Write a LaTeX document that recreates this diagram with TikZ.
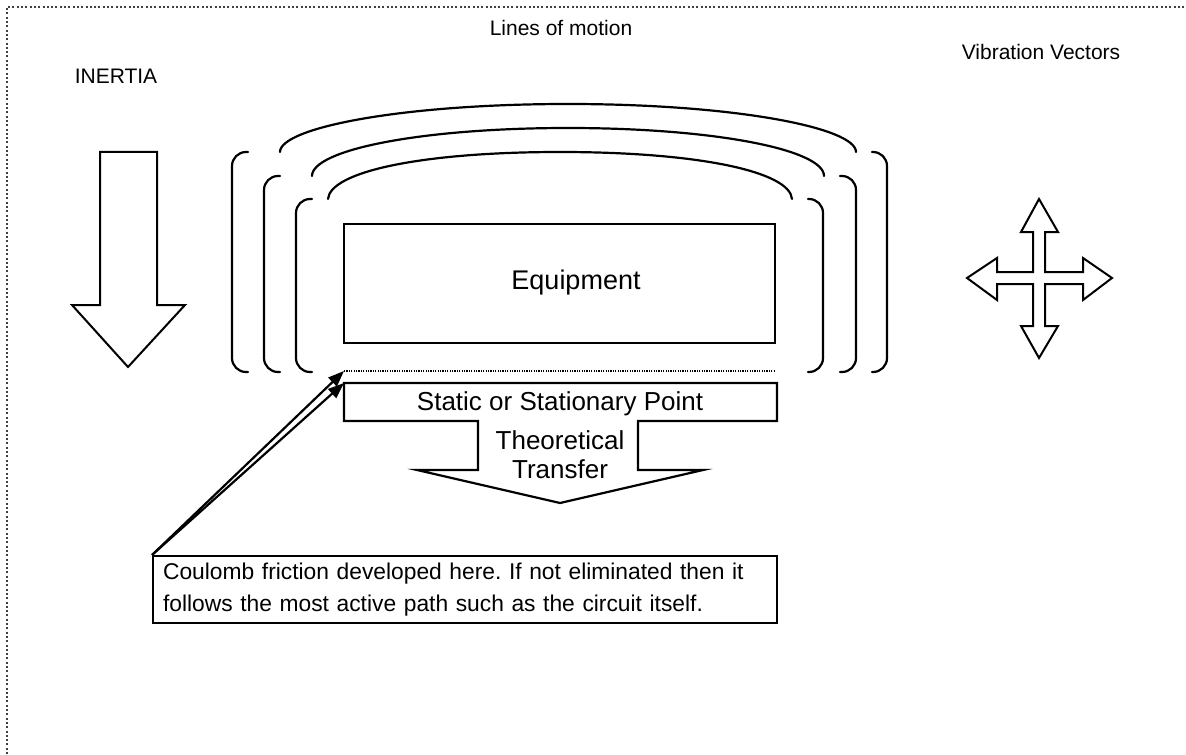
\documentclass[tikz,border=0pt]{standalone}
\usepackage{fontspec}
\setmainfont{Liberation Sans}
\usetikzlibrary{arrows.meta}
\begin{document}
\begin{tikzpicture}[x=0.5pt,y=-0.5pt,
  line width=1.1pt,
  lbl/.style={font=\fontsize{10.5}{12.5}\selectfont, inner sep=0pt},
  stlbl/.style={font=\fontsize{13}{15}\selectfont, inner sep=0pt},
  bigl/.style={font=\fontsize{13.5}{16}\selectfont, inner sep=0pt},
  notelbl/.style={font=\fontsize{11.4}{16}\selectfont\frenchspacing},
  motion/.style={line width=1.1pt, line cap=round},
  bracketline/.style={line width=1.1pt, line cap=round, rounded corners=7pt},
  hollow/.style={line width=1pt, line join=miter, fill=white},
  pointer/.style={line width=1.1pt, -{Triangle[length=8pt,width=6pt]}},
  frameline/.style={line width=1pt, black!75, dash pattern=on 1pt off 1.15pt}]
\useasboundingbox (0,0) rectangle (1186,754);

% dotted page frame (top and left edges)
\draw[frameline] (7,754) -- (7,7) -- (1186,7);

% titles
\node[lbl] (linesmotion) at (561,28) {Lines of motion};
\node[lbl] (inertia) at (116,76) {INERTIA};
\node[lbl] (vibvec) at (1041,52) {Vibration Vectors};

% inertia arrow
\draw[hollow] (100,152) -- (157,152) -- (157,305) -- (185,305) -- (128,367)
  -- (72,305) -- (100,305) -- cycle;

% lines of motion: outer, middle, inner arcs
\draw[motion] (280,152) .. controls (280,128) and (400,104) .. (568,104)
  .. controls (736,104) and (856,128) .. (856,152);
\draw[motion] (312,176) .. controls (312,150) and (420,128) .. (568,128)
  .. controls (716,128) and (824,150) .. (824,176);
\draw[motion] (328,199) .. controls (330,172) and (420,152) .. (560,152)
  .. controls (700,152) and (790,172) .. (792,199);

% side brackets
\draw[bracketline] (248,152) -- (232,152) -- (232,372) -- (248,372);
\draw[bracketline] (280,176) -- (264,176) -- (264,372) -- (280,372);
\draw[bracketline] (312,199) -- (296,199) -- (296,372) -- (312,372);
\draw[bracketline] (872,152) -- (887,152) -- (887,372) -- (872,372);
\draw[bracketline] (840,176) -- (856,176) -- (856,372) -- (840,372);
\draw[bracketline] (808,199) -- (823,199) -- (823,372) -- (808,372);

% equipment
\draw (344,224) rectangle (775,343);
\node[bigl] (equip) at (576,283) {Equipment};

% contact plane
\coordinate (dotL) at (344,371);
\coordinate (dotR) at (775,371);
\draw[line width=0.8pt, dash pattern=on 0.6pt off 0.6pt] (dotL) -- (dotR);

% static point with transfer arrow
\coordinate (statL) at (344,383);
\draw[line width=1.1pt, line join=miter] (statL) -- (777,383) -- (777,421) -- (638,421)
  -- (638,470) -- (703,470) -- (560,503) -- (417,470) -- (478,470)
  -- (478,421) -- (344,421) -- cycle;
\node[stlbl] (static) at (560,404) {Static or Stationary Point};
\node[stlbl] (theo) at (560,440) {Theoretical};
\node[stlbl] (transfer) at (560,469) {Transfer};

% vibration vectors
\draw[hollow] (1039,199) -- (1058,232) -- (1045,232) -- (1045,272) -- (1083,272)
  -- (1083,258) -- (1112,278) -- (1083,300) -- (1083,284) -- (1045,284)
  -- (1045,326) -- (1058,326) -- (1039,358) -- (1021,326) -- (1033,326)
  -- (1033,284) -- (997,284) -- (997,300) -- (967,278) -- (997,258)
  -- (997,272) -- (1033,272) -- (1033,232) -- (1021,232) -- cycle;

% friction note
\node[draw, line width=1.1pt, anchor=north west, text width=302pt,
  minimum height=33.5pt, inner xsep=5pt, inner ysep=3pt, align=left, notelbl]
  (note) at (152,555)
  {Coulomb friction developed here. If not eliminated then it\\
   follows the most active path such as the circuit itself.};
\draw[pointer] (note.north west) -- (dotL);
\draw[pointer] (note.north west) -- (statL);
\end{tikzpicture}
\end{document}
